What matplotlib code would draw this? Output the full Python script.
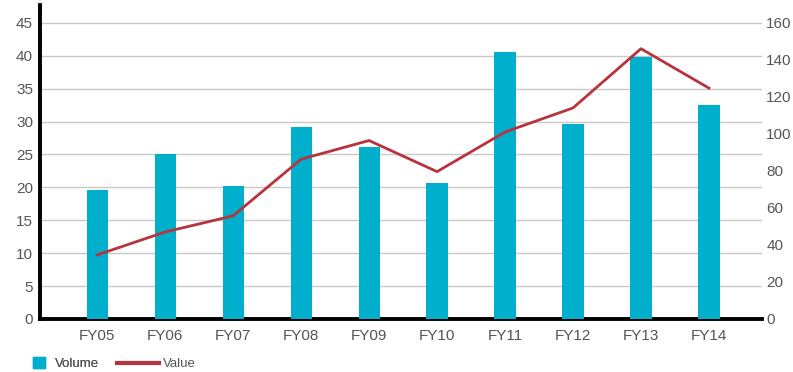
import matplotlib
matplotlib.use("Agg")
import matplotlib.pyplot as plt
from matplotlib.lines import Line2D
from matplotlib.patches import Patch, Rectangle
from matplotlib.legend_handler import HandlerPatch

years = ["FY05", "FY06", "FY07", "FY08", "FY09", "FY10", "FY11", "FY12", "FY13", "FY14"]
volume = [19.6, 25.0, 20.2, 29.2, 26.2, 20.7, 40.5, 29.6, 39.8, 32.5]
value = [34.6, 47, 55.7, 86.3, 96.4, 79.6, 101, 114, 146, 124.7]

plt.rcParams["font.family"] = ["Liberation Sans", "DejaVu Sans"]
BAR = "#00afcb"
LINE = "#b8333d"
TXT = "#555555"

fig = plt.figure(figsize=(7.93, 3.72), dpi=100)
ax = fig.add_axes([40 / 793, 53 / 372, 722 / 793, 314 / 372])
x = list(range(len(years)))

ax.bar(x, volume, width=0.31, color=BAR, zorder=3)
ax.set_xlim(-0.84, 9.78)
ymax = 47.7
ax.set_ylim(0, ymax)
ax.set_yticks(range(0, 50, 5))
ax.set_xticks(x)
ax.set_xticklabels(years)
ax.grid(True, axis="y", color="#c8c8c8", linewidth=1, zorder=0)
for s in ("top", "right"):
    ax.spines[s].set_visible(False)
ax.spines["left"].set_linewidth(2.8)
ax.spines["bottom"].set_linewidth(2.8)
ax.tick_params(axis="both", length=0, labelsize=11, labelcolor=TXT)
ax.tick_params(axis="x", pad=7)
ax.tick_params(axis="y", pad=5)

ax2 = ax.twinx()
ax2.plot(x, value, color=LINE, linewidth=2, zorder=4)
ax2.set_ylim(0, ymax * 160 / 45)
ax2.set_yticks(range(0, 180, 20))
for s in ("top", "right", "left", "bottom"):
    ax2.spines[s].set_visible(False)
ax2.tick_params(axis="y", length=0, labelsize=11, labelcolor=TXT, pad=3)


def square_patch(legend, orig_handle, xdescent, ydescent, width, height, fontsize):
    # square swatch filling the handle width
    return Rectangle((-xdescent, -ydescent + (height - width) / 2), width, width)


# two separate legends so the swatch and the line can have different lengths
y_leg = 1 - 364 / 372
leg1 = fig.legend(handles=[Patch(color=BAR, label="Volume")], loc="center left",
                  bbox_to_anchor=(33 / 793, y_leg), frameon=False, fontsize=9.5,
                  handlelength=0.9, handletextpad=0.8, borderpad=0, borderaxespad=0,
                  labelcolor=TXT,
                  handler_map={Patch: HandlerPatch(patch_func=square_patch)})
leg2 = fig.legend(handles=[Line2D([0], [0], color=LINE, linewidth=3, label="Value")],
                  loc="center left", bbox_to_anchor=(117 / 793, y_leg), frameon=False,
                  fontsize=9.5, handlelength=3.2, handletextpad=0.25, borderpad=0,
                  borderaxespad=0, labelcolor=TXT)
fig.add_artist(leg1)

fig.savefig("out.png", dpi=100)
